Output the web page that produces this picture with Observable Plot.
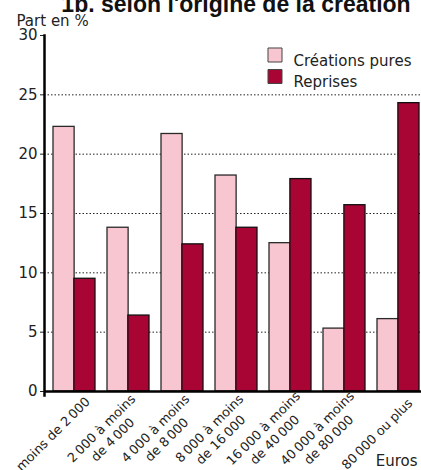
<!DOCTYPE html>
<html>
<head>
<meta charset="utf-8">
<script src="https://cdn.jsdelivr.net/npm/d3@7"></script>
<script src="https://cdn.jsdelivr.net/npm/@observablehq/plot@0.6"></script>
<style>
  html, body { margin: 0; padding: 0; background: #fff; }
</style>
</head>
<body>
<div id="chart"></div>
<script>
const categories = ["c1", "c2", "c3", "c4", "c5", "c6", "c7"];
const categoryLabels = [
  "moins de 2\u202F000",
  "2\u202F000 à moins\nde 4\u202F000",
  "4\u202F000 à moins\nde 8\u202F000",
  "8\u202F000 à moins\nde 16\u202F000",
  "16\u202F000 à moins\nde 40\u202F000",
  "40\u202F000 à moins\nde 80\u202F000",
  "80\u202F000 ou plus"
];
const creationsPures = [22.3, 13.8, 21.7, 18.2, 12.5, 5.3, 6.1];
const reprises = [9.5, 6.4, 12.4, 13.8, 17.9, 15.7, 24.3];
const seriesNames = ["Créations pures", "Reprises"];
const yTicks = [0, 5, 10, 15, 20, 25, 30];
const gridTicks = [5, 10, 15, 20, 25];
const title = "1b. selon l'origine de la création";
const yLabel = "Part en %";
const xLabel = "Euros";

const colors = { pure: "#F8C6D1", rep: "#A80434" };

const W = 421, H = 470, ML = 44, MR = 0, MT = 35, MB = 79;
const xOpts = { type: "band", domain: categories, paddingInner: 0.228, paddingOuter: 0.099, align: 0.81 };
const bw = Plot.scale({ x: { ...xOpts, range: [ML, W - MR] } }).bandwidth;
const half = bw / 2;

const rows = categories.map((c, i) => ({ cat: c, label: categoryLabels[i], pure: creationsPures[i], rep: reprises[i] }));

const FS = 15;

const plot = Plot.plot({
  width: W, height: H,
  marginLeft: ML, marginRight: MR, marginTop: MT, marginBottom: MB,
  style: { fontFamily: "DejaVu Sans, Verdana, sans-serif", fontSize: FS + "px", color: "#222", background: "#fff", overflow: "visible" },
  x: { ...xOpts, axis: null },
  y: { domain: [0, 30], axis: null },
  marks: [
    Plot.ruleY(gridTicks, { stroke: "#222", strokeDasharray: "1.5,2", strokeWidth: 1 }),
    Plot.barY(rows, { x: "cat", y: "pure", fill: colors.pure, stroke: "#2a2a2a", strokeWidth: 1.3, insetLeft: 0, insetRight: half }),
    Plot.barY(rows, { x: "cat", y: "rep", fill: colors.rep, stroke: "#111", strokeWidth: 1.3, insetLeft: half, insetRight: 0 }),
    Plot.axisY({ ticks: yTicks, tickSize: 4, tickPadding: 3, fontSize: FS, stroke: "#222", fill: "#222", label: null }),
    Plot.frame({ anchor: "left", stroke: "#000", strokeWidth: 2.5, insetBottom: -4 }),
    Plot.ruleY([0], { stroke: "#000", strokeWidth: 2.5 }),
    Plot.text(rows, { x: "cat", text: "label", frameAnchor: "bottom", rotate: -45, textAnchor: "middle", lineAnchor: "middle", dx: -22, dy: 42, fontSize: 12.8, lineHeight: 1.25, fill: "#222" }),
    Plot.text([title], { frameAnchor: "top", dx: 3, dy: -24, lineAnchor: "bottom", fontWeight: "bold", fontSize: 23, fontFamily: "Liberation Sans, Arial, sans-serif", fill: "#111" }),
    Plot.text([yLabel], { frameAnchor: "top-left", textAnchor: "start", lineAnchor: "bottom", dx: -28, dy: -10, fontSize: FS, fill: "#222" }),
    Plot.text([xLabel], { frameAnchor: "bottom-right", textAnchor: "end", lineAnchor: "bottom", dx: -4, dy: 74, fontSize: FS, fill: "#222" }),
    Plot.dot([seriesNames[0]], { frameAnchor: "top-left", symbol: "square", r: 7.9, dx: 230.5, dy: 19.5, fill: colors.pure, stroke: "#444", strokeWidth: 1 }),
    Plot.dot([seriesNames[1]], { frameAnchor: "top-left", symbol: "square", r: 7.9, dx: 230.5, dy: 41, fill: colors.rep, stroke: "#444", strokeWidth: 1 }),
    Plot.text([seriesNames[0]], { frameAnchor: "top-left", textAnchor: "start", dx: 249, dy: 19.5, fontSize: FS, fill: "#222" }),
    Plot.text([seriesNames[1]], { frameAnchor: "top-left", textAnchor: "start", dx: 249, dy: 41, fontSize: FS, fill: "#222" })
  ]
});
document.getElementById("chart").appendChild(plot);
</script>
</body>
</html>
